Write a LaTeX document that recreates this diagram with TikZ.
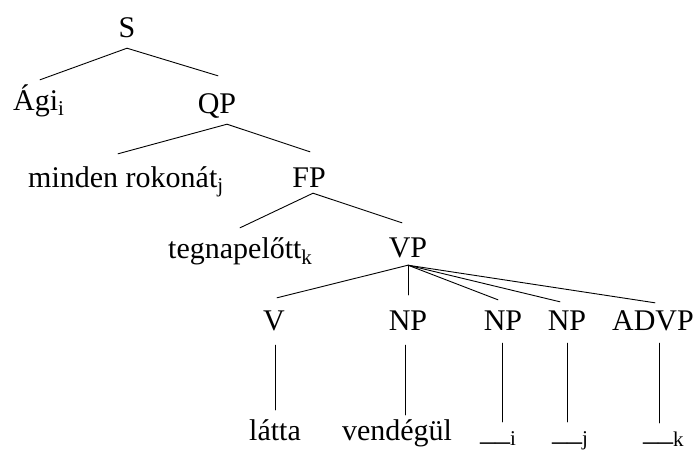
\documentclass[tikz,border=0pt]{standalone}
\usepackage{fontspec}
\setmainfont{Liberation Serif}
\begin{document}
\begin{tikzpicture}[x=1pt,y=1pt,
  lbl/.style={inner sep=0pt, text height=20pt, text depth=0pt, font=\fontsize{30}{36}\selectfont},
  edge/.style={line width=0.9pt, line cap=round}]
\useasboundingbox[fill=white] (0,0) rectangle (698,-451);
% nodes
\node[lbl,anchor=base] (S) at (127,-37) {S};
\node[lbl,anchor=base west] (Agi) at (13,-110) {Ági\textsubscript{i}};
\node[lbl,anchor=base] (QP) at (217,-113) {QP};
\node[lbl,anchor=base west] (minden) at (28,-187) {minden rokonát\textsubscript{j}};
\node[lbl,anchor=base] (FP) at (309,-187) {FP};
\node[lbl,anchor=base west] (tegnap) at (168,-258) {tegnapelőtt\textsubscript{k}};
\node[lbl,anchor=base] (VP) at (408,-257) {VP};
\node[lbl,anchor=base] (V) at (274,-330) {V};
\node[lbl,anchor=base] (NPa) at (408,-330) {NP};
\node[lbl,anchor=base] (NPb) at (503,-330) {NP};
\node[lbl,anchor=base] (NPc) at (567,-330) {NP};
\node[lbl,anchor=base] (ADVP) at (653,-330) {ADVP};
\node[lbl,anchor=base] (latta) at (275,-440) {látta};
\node[lbl,anchor=base] (vend) at (397,-440) {vendégül};
\node[lbl,anchor=base west] (ti) at (480,-440) {\_\_\textsubscript{i}};
\node[lbl,anchor=base west] (tj) at (552,-440) {\_\_\textsubscript{j}};
\node[lbl,anchor=base west] (tk) at (643,-440) {\_\_\textsubscript{k}};
% edges
\draw[edge] ([yshift=-11pt]S.south) -- ([xshift=27pt,yshift=10pt]Agi.north west);
\draw[edge] ([yshift=-11pt]S.south) -- ([xshift=1pt,yshift=17pt]QP.north);
\draw[edge] ([xshift=10pt,yshift=-11pt]QP.south) -- ([xshift=90pt,yshift=13pt]minden.north west);
\draw[edge] ([xshift=10pt,yshift=-11pt]QP.south) -- ([xshift=1pt,yshift=15pt]FP.north);
\draw[edge] ([xshift=4pt,yshift=-6pt]FP.south) -- ([xshift=72pt,yshift=10pt]tegnap.north west);
\draw[edge] ([xshift=4pt,yshift=-6pt]FP.south) -- ([xshift=-6pt,yshift=14pt]VP.north);
\draw[edge] ([yshift=-8pt]VP.south) -- ([xshift=3pt,yshift=12pt]V.north);
\draw[edge] ([yshift=-8pt]VP.south) -- ([yshift=15pt]NPa.north);
\draw[edge] ([yshift=-8pt]VP.south) -- ([xshift=-5pt,yshift=10pt]NPb.north);
\draw[edge] ([yshift=-8pt]VP.south) -- ([xshift=-7pt,yshift=8pt]NPc.north);
\draw[edge] ([yshift=-8pt]VP.south) -- ([xshift=2pt,yshift=7pt]ADVP.north);
\draw[edge] ([xshift=1pt,yshift=-15pt]V.south) -- ([yshift=10pt]latta.north);
\draw[edge] ([xshift=-3pt,yshift=-15pt]NPa.south) -- ([xshift=8pt,yshift=5pt]vend.north);
\draw[edge] ([xshift=-1pt,yshift=-13pt]NPb.south) -- ([xshift=22pt,yshift=-2pt]ti.north west);
\draw[edge] ([yshift=-13pt]NPc.south) -- ([xshift=15pt,yshift=-2pt]tj.north west);
\draw[edge] ([xshift=6pt,yshift=-13pt]ADVP.south) -- ([xshift=16pt,yshift=-3pt]tk.north west);
\end{tikzpicture}
\end{document}
